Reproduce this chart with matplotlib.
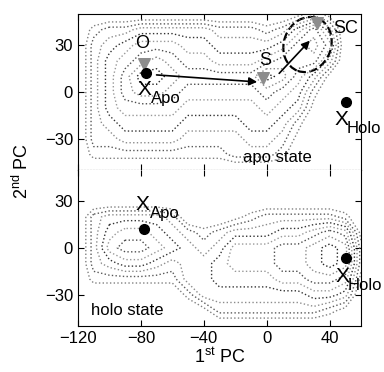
import numpy as np
import matplotlib
matplotlib.use('Agg')
import matplotlib.pyplot as plt
from matplotlib.patches import Ellipse

plt.rcParams['font.family'] = ['Liberation Sans', 'DejaVu Sans']
plt.rcParams['mathtext.default'] = 'regular'

# grid of the free energy maps (10 = not visited)
pc1 = [-120, -110, -100, -90, -80, -70, -60, -50, -40, -30, -20, -10, 0, 10, 20, 30, 40, 50, 60]
pc2 = [50, 40, 30, 20, 10, 0, -10, -20, -30, -40, -50]

apo_energy = [
    [10, 10, 10, 10, 10, 10, 10, 10, 10, 10, 10, 10, 10, 10, 9, 8, 9, 10, 10],
    [10, 8, 7, 7, 6, 6, 6, 6, 6, 7, 7, 7, 8, 7, 5, 3, 6, 10, 10],
    [10, 7, 6, 5, 4, 4, 4, 5, 5, 6, 6, 6, 6, 5, 3, 2, 4, 10, 10],
    [10, 7, 5, 4, 3, 2, 3, 4, 4, 5, 5, 5, 4, 3, 3, 3, 6, 10, 10],
    [10, 7, 5, 3, 1, 1, 2, 3, 3, 3, 3, 3, 1, 2, 4, 6, 9, 10, 10],
    [10, 7, 5, 3, 2, 2, 3, 4, 4, 4, 4, 4, 3, 4, 5, 8, 10, 10, 10],
    [10, 7, 5, 4, 4, 4, 4, 5, 5, 5, 5, 5, 4, 5, 6, 9, 10, 10, 10],
    [10, 7, 6, 5, 5, 5, 5, 6, 6, 6, 6, 5, 5, 6, 8, 10, 10, 10, 10],
    [10, 7, 7, 6, 6, 6, 6, 7, 7, 7, 7, 6, 6, 7, 9, 10, 10, 10, 10],
    [10, 8, 8, 8, 8, 8, 8, 8, 8, 8, 7, 7, 7, 8, 10, 10, 10, 10, 10],
    [10, 10, 10, 10, 10, 10, 10, 10, 10, 10, 10, 10, 10, 10, 10, 10, 10, 10, 10],
]

holo_energy = [
    [10, 10, 10, 10, 10, 10, 10, 10, 10, 10, 10, 10, 10, 10, 10, 10, 10, 10, 10],
    [10, 10, 10, 10, 10, 10, 10, 10, 10, 10, 10, 10, 10, 10, 10, 10, 10, 10, 10],
    [10, 10, 10, 10, 10, 10, 10, 10, 10, 10, 10, 10, 10, 10, 10, 10, 10, 10, 10],
    [10, 7, 6, 6, 6, 6, 7, 10, 10, 10, 9, 8, 7, 7, 7, 7, 7, 8, 10],
    [10, 7, 5, 4, 4, 5, 6, 7, 8, 7, 6, 6, 6, 5, 5, 4, 3, 4, 9],
    [10, 7, 4, 3, 3, 4, 5, 6, 7, 6, 4, 4, 4, 3, 3, 2, 1, 2, 8],
    [10, 7, 6, 5, 5, 6, 7, 6, 6, 5, 4, 4, 4, 3, 3, 2, 1, 2, 8],
    [10, 8, 8, 8, 8, 8, 8, 6, 6, 5, 5, 5, 5, 4, 4, 3, 3, 4, 9],
    [10, 10, 10, 10, 10, 10, 10, 8, 6, 6, 6, 6, 6, 6, 6, 5, 5, 6, 10],
    [10, 10, 10, 10, 10, 10, 10, 10, 9, 7, 7, 7, 7, 7, 7, 7, 8, 9, 10],
    [10, 10, 10, 10, 10, 10, 10, 10, 10, 10, 10, 10, 10, 10, 10, 10, 10, 10, 10],
]
levels = [1.5, 2.5, 3.5, 4.5, 5.5, 6.5, 7.5, 8.5]

# reference structures
tri_x = [-78, -2, 32]
tri_y = [18, 9, 44]
tri_names = ['O', 'S', 'SC']
tri_label_x = [-79, -1, 50]
tri_label_y = [31, 20.5, 41]

apo_dot = (-77, 12)
holo_dot = (50.5, -6.3)
holo_dot_b = (50.4, -6.2)
apo_dot_b = (-78, 12.2)

arrow_start = [(-70, 11), (8, 12)]
arrow_end = [(-6, 6.5), (27.5, 33)]

fig = plt.figure(figsize=(3.84, 3.72), dpi=100)
ax1 = fig.add_axes([0.203, 0.543, 0.737, 0.419])
ax2 = fig.add_axes([0.203, 0.124, 0.737, 0.419])

X, Y = np.meshgrid(pc1, pc2)
line_cols = ['0.15', '0.55', '0.3', '0.6', '0.2', '0.55', '0.35', '0.5']
for ax, E in [(ax1, apo_energy), (ax2, holo_energy)]:
    ax.contour(X, Y, np.array(E, dtype=float), levels=levels, colors=line_cols,
               linestyles=':', linewidths=1.0)
    ax.set_xlim(-120, 60)
    ax.set_ylim(-50, 50)
    ax.set_xticks([-120, -80, -40, 0, 40])
    ax.set_yticks([-30, 0, 30])
    ax.tick_params(direction='in', top=True, right=True, length=4, labelsize=12)

ax1.tick_params(labelbottom=False)
ax1.spines['bottom'].set_linestyle(':')
ax2.spines['top'].set_visible(False)

# apo panel
ax1.scatter(tri_x, tri_y, marker='v', s=70, color='0.55', zorder=3)
for name, lx, ly in zip(tri_names, tri_label_x, tri_label_y):
    ax1.text(lx, ly, name, fontsize=13, ha='center', va='center')
ax1.plot(*apo_dot, 'o', color='black', ms=7, zorder=4)
ax1.plot(*holo_dot, 'o', color='black', ms=7, zorder=4)
for s, e in zip(arrow_start, arrow_end):
    ax1.annotate('', xy=e, xytext=s,
                 arrowprops=dict(arrowstyle='-|>', color='black', lw=1.2,
                                 mutation_scale=12, shrinkA=0, shrinkB=0))
ax1.add_patch(Ellipse((26, 30.5), 30, 36, angle=-20, fill=False,
                      linestyle='--', linewidth=1.6, color='black'))
ax1.text(-77.5, 1.5, 'X', fontsize=15, ha='center', va='center')
ax1.text(-73.5, -7, 'Apo', fontsize=12)
ax1.text(47.7, -17.4, 'X', fontsize=15, ha='center', va='center')
ax1.text(51.2, -26.4, 'Holo', fontsize=12)
ax1.text(7, -42, 'apo state', fontsize=12, ha='center', va='center')

# holo panel
ax2.plot(*apo_dot_b, 'o', color='black', ms=7, zorder=4)
ax2.plot(*holo_dot_b, 'o', color='black', ms=7, zorder=4)
ax2.text(-78.7, 27.6, 'X', fontsize=15, ha='center', va='center')
ax2.text(-74, 19.3, 'Apo', fontsize=12)
ax2.text(48.3, -18.3, 'X', fontsize=15, ha='center', va='center')
ax2.text(51.8, -27, 'Holo', fontsize=12)
ax2.text(-112, -40, 'holo state', fontsize=12, ha='left', va='center')

ax2.set_xlabel('1$^{st}$ PC', fontsize=13, labelpad=1)
fig.text(0.058, 0.54, '2$^{nd}$ PC', fontsize=13, rotation=90, ha='center', va='center')

fig.savefig('out.png', dpi=100)
